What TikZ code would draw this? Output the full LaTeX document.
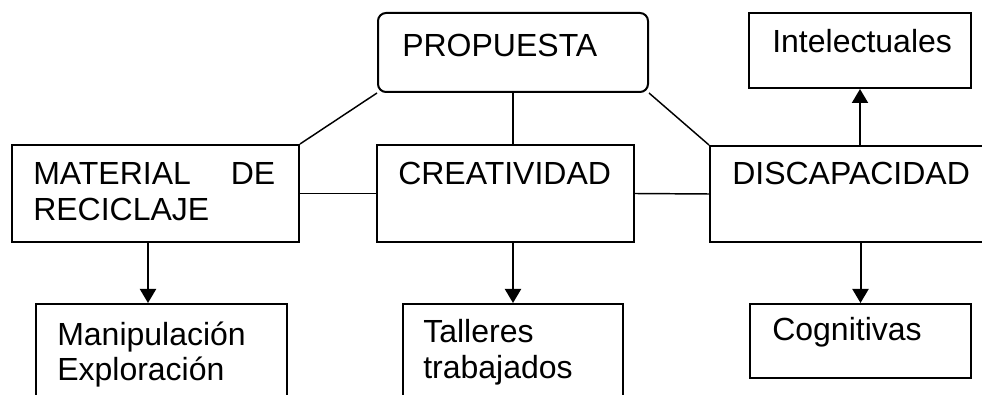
\documentclass[tikz,border=0pt]{standalone}
\usepackage{fontspec}
\setmainfont{Liberation Sans}
\usetikzlibrary{arrows.meta,fit}

\begin{document}
\begin{tikzpicture}[x=0.75pt,y=-0.75pt,>={Triangle[width=12pt,length=10.5pt]},
    box/.style={draw,line width=1.5pt,inner sep=0pt},
    round box/.style={box,rounded corners=6pt},
    txt/.style={anchor=base west,inner sep=0pt,align=left,font=\fontsize{24}{26.5}\selectfont},
    link/.style={line width=1.1pt},
    arr/.style={->,line width=1.5pt}]
                \useasboundingbox (0,0) rectangle (982,395);
                \clip (0,0) rectangle (982,395);

                \node[round box,fit={(378,13) (648,92)}] (pro) {};
                \node[box,fit={(12,145) (299,242)}] (mat) {};
                \node[box,fit={(377,145) (634,242)}] (cre) {};
                \node[box,fit={(710,146) (1000,242)}] (dis) {};
                \node[box,fit={(749,13) (971,88)}] (int) {};
                \node[box,fit={(36,304) (287,420)}] (man) {};
                \node[box,fit={(403,304) (623,420)}] (tal) {};
                \node[box,fit={(750,304) (971,378)}] (cog) {};

                \node[txt] (tpro) at (402,57) {PROPUESTA};
                \node[txt,text width=181.5pt] (tmat) at (33,185) {MATERIAL \hfill DE\\RECICLAJE};
                \node[txt] (tcre) at (398,185) {CREATIVIDAD};
                \node[txt] (tdis) at (732,185) {DISCAPACIDAD};
                \node[txt] (tint) at (772,53) {Intelectuales};
                \node[txt,text width=170pt] (tman) at (57,345) {Manipulación\\Exploración};
                \node[txt,text width=150pt] (ttal) at (423,343) {Talleres\\trabajados};
                \node[txt] (tcog) at (772,340) {Cognitivas};

                \path[link]
                    (pro.south west) edge (mat.north east)
                    (pro.south) edge (pro.south |- cre.north)
                    (pro.south east) edge (dis.north west)
                    (mat.east) edge (cre.west)
                    (cre.east) edge (dis.west)
                    ;
                \path[arr]
                    (mat.south -| 148,0) edge (man.north -| 148,0)
                    (cre.south -| tal.north) edge (tal.north)
                    (dis.south -| cog.north) edge (cog.north)
                    (dis.north -| int.south) edge (int.south)
                    ;
            \end{tikzpicture}
\end{document}
